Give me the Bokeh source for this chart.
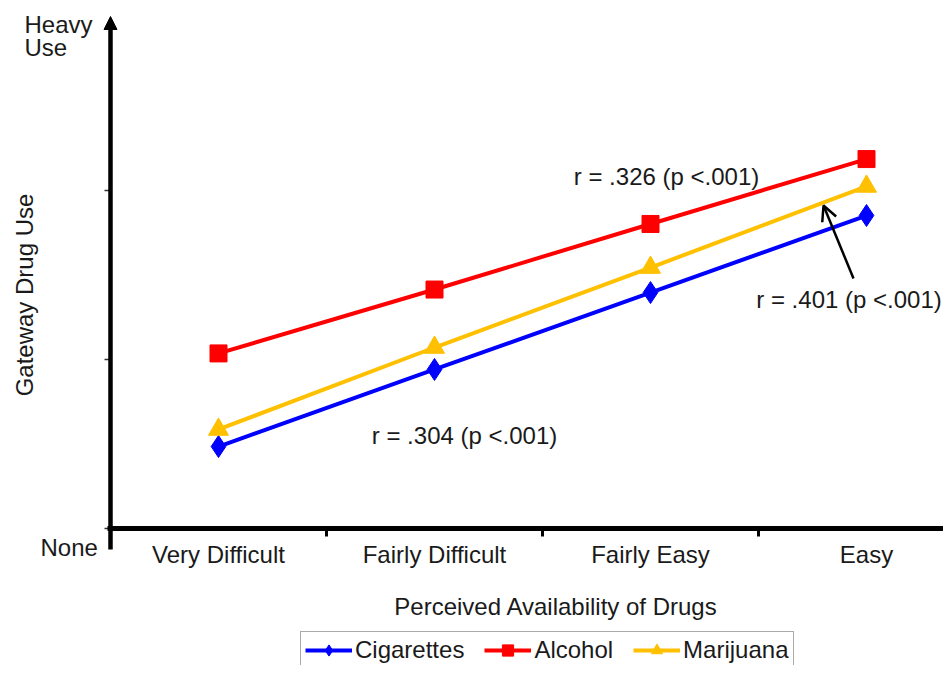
import math
from bokeh.plotting import figure
from bokeh.models import Range1d, Label, Arrow, NormalHead, OpenHead, Legend, LegendItem
from bokeh.core.properties import value
from bokeh.embed import file_html
from bokeh.resources import INLINE

# ---- data ----
categories = ["Very Difficult", "Fairly Difficult", "Fairly Easy", "Easy"]
x_pos = [0.5, 1.5, 2.5, 3.5]
cigarettes = [0.485, 0.941, 1.396, 1.852]
alcohol = [1.036, 1.414, 1.802, 2.186]
marijuana = [0.586, 1.071, 1.544, 2.024]
boundaries = [0, 1, 2, 3]          # category separators (x ticks)
y_ticks = [0, 1, 2]

# ---- layout (pixels) ----
W, H = 943, 665
X0_PX, XU = 110, 216      # x=0 at px 110, 216 px per category
Y0_PX, YU = 528, 169      # y=0 at px 528, 169 px per unit

def dx(px):   # pixel -> data x
    return (px - X0_PX) / XU

def dy(py):   # pixel (from top) -> data y
    return (Y0_PX - py) / YU

FONT = "Liberation Sans"
FS = "24px"
TXT = "#1a1a1a"

p = figure(width=W, height=H, x_range=Range1d(dx(0), dx(W)), y_range=Range1d(dy(H), dy(0)),
           output_backend="svg", toolbar_location=None,
           x_axis_location=None, y_axis_location=None, min_border=0)
p.grid.visible = False
p.outline_line_color = None
p.background_fill_color = "white"
p.border_fill_color = "white"

# ---- axes (drawn as guides) ----
p.add_layout(Arrow(end=None, x_start=dx(107), y_start=0, x_end=dx(W + 10), y_end=0,
                   line_width=5, line_color="black"))
p.segment(x0=boundaries, y0=0, x1=boundaries, y1=dy(Y0_PX + 8), line_width=3, line_color="black")
p.segment(x0=dx(X0_PX - 6), y0=y_ticks, x1=0, y1=y_ticks, line_width=1.5, line_color="#333")
p.add_layout(Arrow(end=NormalHead(size=13, fill_color="black", line_color="black", line_width=1),
                   x_start=0, y_start=dy(549), x_end=0, y_end=dy(16),
                   line_width=4.5, line_color="black"))
p.text(x=x_pos, y=dy(554), text=categories, text_font=value(FONT), text_font_size=FS,
       text_color=TXT, text_align="center", text_baseline="alphabetic")

# ---- series ----
series = [
    ("Cigarettes", cigarettes, "#0000FF", "diamond", 22),
    ("Alcohol", alcohol, "#FF0000", "square", 17),
    ("Marijuana", marijuana, "#FFC000", "triangle", 20),
]
items = []
for name, vals, col, mk, sz in series:
    lr = p.line(x_pos, vals, line_color=col, line_width=4)
    sr = p.scatter(x_pos, vals, marker=mk, size=sz, fill_color=col, line_color=col)
    items.append(LegendItem(label=name, renderers=[lr, sr]))

legend = Legend(items=items, orientation="horizontal", location=(300, -4),
                padding=4, margin=0, spacing=20, glyph_width=47, glyph_height=28,
                label_standoff=3, border_line_color="#555", border_line_width=1.5,
                label_text_font=FONT, label_text_font_size=FS, label_text_color=TXT,
                background_fill_alpha=1)
p.add_layout(legend)

def lab(x, y, text, align="left", angle=0):
    p.add_layout(Label(x=x, y=y, text=text, text_font=FONT, text_font_size=FS,
                       text_color=TXT, text_align=align, text_baseline="alphabetic",
                       angle=angle))

lab(dx(24), dy(24), "Heavy")
lab(dx(24), dy(47), "Use")
lab(dx(40), dy(547), "None")
lab(dx(24), dy(294.5), "Gateway Drug Use", align="center", angle=math.pi / 2)
lab(dx(559), dy(606), "Perceived Availability  of Drugs", align="center")
lab(dx(666), dy(176), "r = .326 (p <.001)", align="center")
lab(dx(464), dy(435), "r = .304 (p <.001)", align="center")
lab(dx(848.5), dy(299), "r = .401 (p <.001)", align="center")

p.add_layout(Arrow(end=OpenHead(size=15, line_width=2.5, line_color="black"),
                   x_start=dx(853), y_start=dy(278), x_end=dx(823), y_end=dy(205),
                   line_width=2.5, line_color="black"))

open("out.html", "w").write(file_html(p, INLINE))
